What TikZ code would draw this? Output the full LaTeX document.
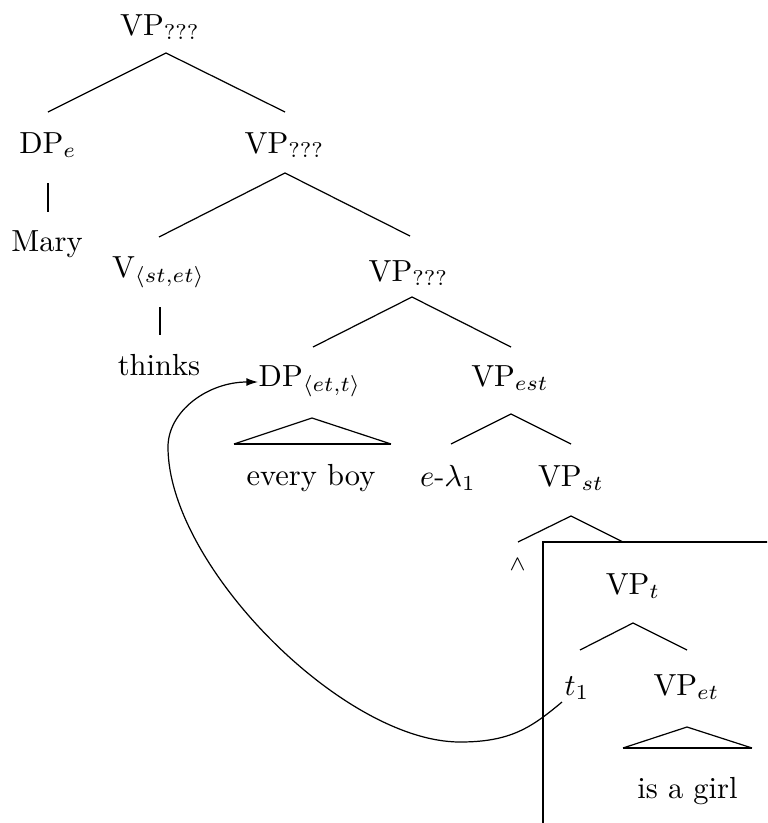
\documentclass[tikz,border=0pt]{standalone}
\usetikzlibrary{arrows.meta}
\begin{document}
\begin{tikzpicture}[x=0.3279pt,y=-0.3279pt,
  lbl/.style={anchor=base,inner sep=0pt},
  edge/.style={line width=0.4pt},
  bar/.style={line width=0.8pt},
  roofline/.style={line width=0.4pt},
  roofbase/.style={line width=0.7pt},
  boxline/.style={line width=0.8pt},
  move/.style={line width=0.4pt,-{Latex[length=3.8pt,width=2.6pt]}}]
\useasboundingbox (0,0) rectangle (767,823);
% nodes
\node[lbl] (vp1) at (160,35) {VP$_{???}$};
\node[lbl] (dpe) at (48,153) {DP$_e$};
\node[lbl] (mary) at (47,251) {Mary};
\node[lbl] (vp2) at (284.5,153) {VP$_{???}$};
\node[lbl] (v) at (158.5,277) {V$_{\langle st,et\rangle}$};
\node[lbl] (thinks) at (159,375) {thinks};
\node[lbl] (vp3) at (408.5,281) {VP$_{???}$};
\node[lbl] (dp) at (310,386) {DP$_{\langle et,t\rangle}$};
\node[lbl] (vpest) at (510,386) {VP$_{est}$};
\node[lbl] (everyboy) at (311,485) {every boy};
\node[lbl] (lam) at (448,486) {$e$-$\lambda_1$};
\node[lbl] (vpst) at (571,486) {VP$_{st}$};
\node[inner sep=0pt] (wedge) at (517.5,565) {$\scriptstyle\wedge$};
\node[lbl] (vpt) at (633,594) {VP$_t$};
\node[lbl] (t1) at (577,695) {$t_1$};
\node[lbl] (vpet) at (686.5,695) {VP$_{et}$};
\node[lbl] (girl) at (687.5,798) {is a girl};
% edge coordinates
\coordinate (a1) at (166,53);  \coordinate (a1l) at (48,112);  \coordinate (a1r) at (285,112);
\coordinate (a2) at (285,173); \coordinate (a2l) at (159,237); \coordinate (a2r) at (410,236);
\coordinate (a3) at (412,297); \coordinate (a3l) at (313,347); \coordinate (a3r) at (511,347);
\coordinate (r1) at (312,418); \coordinate (r1l) at (234,444); \coordinate (r1r) at (391,444);
\coordinate (a4) at (511,414); \coordinate (a4l) at (451,444); \coordinate (a4r) at (571,444);
\coordinate (a5) at (571,516); \coordinate (a5l) at (518,542); \coordinate (a5r) at (623,542);
\coordinate (a6) at (633,623); \coordinate (a6l) at (580,650); \coordinate (a6r) at (687,650);
\coordinate (r2) at (687,727); \coordinate (r2l) at (623,748); \coordinate (r2r) at (752,748);
\coordinate (b1t) at (48,183); \coordinate (b1b) at (48,212);
\coordinate (b2t) at (160,307); \coordinate (b2b) at (160,335);
% edges
\draw[edge] (a1l) -- (a1) -- (a1r);
\draw[edge] (a2l) -- (a2) -- (a2r);
\draw[edge] (a3l) -- (a3) -- (a3r);
\draw[edge] (a4l) -- (a4) -- (a4r);
\draw[edge] (a5l) -- (a5) -- (a5r);
\draw[edge] (a6l) -- (a6) -- (a6r);
\draw[roofline] (r1l) -- (r1) -- (r1r);
\draw[roofbase] (r1l) -- (r1r);
\draw[roofline] (r2l) -- (r2) -- (r2r);
\draw[roofbase] (r2l) -- (r2r);
\draw[bar] (b1t) -- (b1b);
\draw[bar] (b2t) -- (b2b);
% box
\begin{scope}
\clip (0,0) rectangle (767,823);
\draw[boxline] (543,850) -- (543,542) -- (800,542);
\end{scope}
% movement arrow
\coordinate (cs) at (562,702);
\coordinate (cb) at (460,742);
\coordinate (cl) at (168,447);
\coordinate (ce) at (258,382);
\draw[move] (cs) .. controls (531,728) and (510,742) .. (cb)
  .. controls (343,742) and (168,565) .. (cl)
  .. controls (168,411) and (208,382) .. (ce);
\end{tikzpicture}
\end{document}
